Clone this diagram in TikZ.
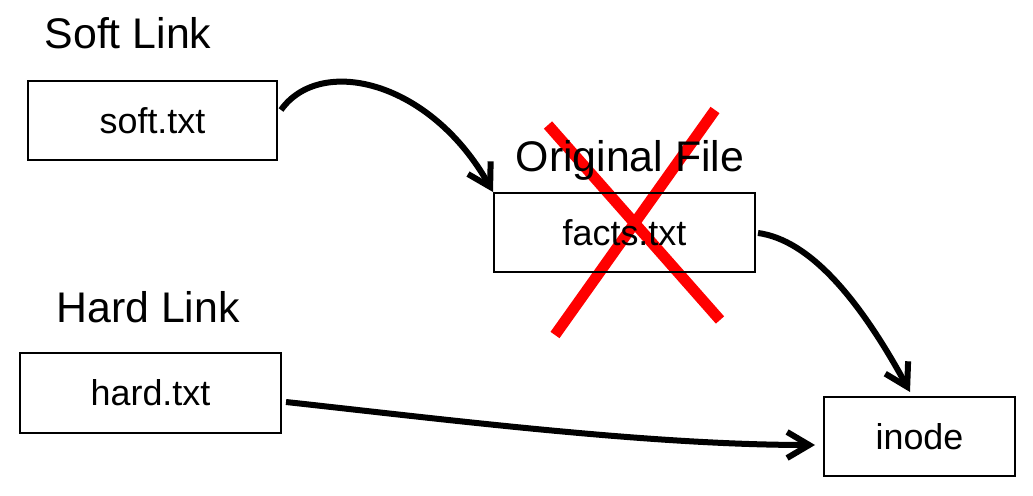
\documentclass[tikz,border=0pt]{standalone}
\usepackage{fontspec}
\setmainfont{Liberation Sans}
\usetikzlibrary{arrows.meta}
\tikzset{>={Straight Barb[length=22bp,width=26bp]}}
\tikzset{
  filebox/.style={draw=black,line width=2.2bp,inner sep=0pt,font=\fontsize{36}{40}\selectfont},
  title/.style={font=\fontsize{43}{48}\selectfont},
  link/.style={->,line width=6bp},
  cross/.style={draw=red,line width=11bp}
}

\begin{document}
\begin{tikzpicture}[x=1bp,y=-1bp]
  \useasboundingbox (0,0) rectangle (1033,496);
  % deleted
  \draw[cross] (548,125) -- (720,320);
  \draw[cross] (715,110) -- (555,335);
  % boxes
  \node[filebox,minimum width=249bp,minimum height=79bp] (soft) at (152.5,120.5) {soft.txt};
  \node[filebox,minimum width=261bp,minimum height=79bp] (facts) at (624.5,232.5) {facts.txt};
  \node[filebox,minimum width=261bp,minimum height=80bp] (hard) at (150.5,393) {hard.txt};
  \node[filebox,minimum width=191bp,minimum height=79bp] (inode) at (919.5,436.5) {inode};
  % titles
  \node[title] (softlbl) at (128,33) {Soft Link};
  \node[title] (origlbl) at (630,160) {Original File};
  \node[title] (hardlbl) at (148,307) {Hard Link};
  % links
  \coordinate (s1) at (281,110);
  \coordinate (s2) at (493,192);
  \draw[link] (s1) .. controls (320,55) and (430,80) .. (s2);
  \coordinate (f1) at (758,233);
  \coordinate (f2) at (910,392);
  \draw[link] (f1) .. controls (810,240) and (860,300) .. (f2);
  \coordinate (h1) at (286,402);
  \coordinate (h2) at (815,445);
  \draw[link] (h1) .. controls (450,420) and (650,445) .. (h2);
\end{tikzpicture}
\end{document}
